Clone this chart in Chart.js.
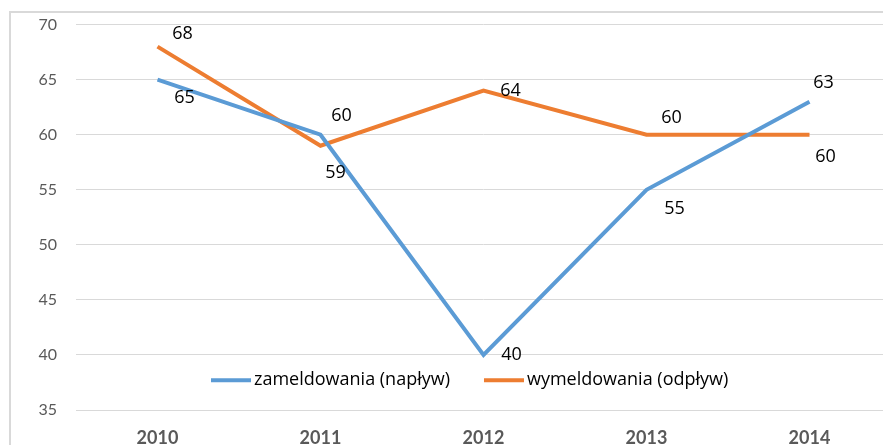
<!DOCTYPE html>
<html>
<head>
<meta charset="utf-8">
<script src="https://cdn.jsdelivr.net/npm/chart.js@4/dist/chart.umd.min.js"></script>
<style>
    html, body { margin: 0; padding: 0; background: #fff; overflow: hidden; }
    #wrap { position: relative; width: 883px; height: 445px; overflow: hidden; }
    #frame { position: absolute; left: 9px; top: 11px; width: 900px; height: 460px;
             border-left: 2px solid #d9d9d9; border-top: 2px solid #d9d9d9; }
    #box { position: absolute; left: 0; top: -4px; width: 891px; height: 449px; }
</style>
</head>
<body>
<div id="wrap">
    <div id="frame"></div>
    <div id="box"><canvas id="trendChart"></canvas></div>
</div>
<script>
document.addEventListener("DOMContentLoaded", function () {

    const years = ["2010", "2011", "2012", "2013", "2014"];
    const inflow = [65, 60, 40, 55, 63];
    const outflow = [68, 59, 64, 60, 60];
    const inflowLabel = "zameldowania (napływ)";
    const outflowLabel = "wymeldowania (odpływ)";

    const blue = "#5b9bd5";
    const orange = "#ed7d31";
    const textFont = "'Open Sans', Lato, sans-serif";
    const axisFont = "Lato, 'Open Sans', sans-serif";

    // label offsets from each point, [dx, dy]
    const inflowOffsets = [[27, 18], [21, -19], [28, 0], [28, 19], [14, -19]];
    const outflowOffsets = [[25, -13], [15, 27], [27, 0], [25, -17], [16, 22]];

    const pointLabels = {
        id: "pointLabels",
        afterDatasetsDraw(chart) {
            const ctx = chart.ctx;
            ctx.save();
            ctx.font = "18px " + textFont;
            ctx.fillStyle = "#000";
            ctx.textAlign = "center";
            ctx.textBaseline = "middle";
            const offsets = [inflowOffsets, outflowOffsets];
            chart.data.datasets.forEach(function (ds, i) {
                chart.getDatasetMeta(i).data.forEach(function (pt, j) {
                    ctx.fillText(String(ds.data[j]), pt.x + offsets[i][j][0], pt.y + offsets[i][j][1]);
                });
            });
            ctx.restore();
        }
    };

    const innerLegend = {
        id: "innerLegend",
        afterDatasetsDraw(chart) {
            const ctx = chart.ctx;
            const y = chart.scales.y.getPixelForValue(37.7);
            ctx.save();
            ctx.font = "18px " + textFont;
            ctx.textBaseline = "middle";
            let x = 211;
            chart.data.datasets.forEach(function (ds) {
                ctx.strokeStyle = ds.borderColor;
                ctx.lineWidth = 4;
                ctx.beginPath();
                ctx.moveTo(x, y);
                ctx.lineTo(x + 40, y);
                ctx.stroke();
                ctx.fillStyle = "#000";
                ctx.fillText(ds.label, x + 43, y);
                x += 43 + ctx.measureText(ds.label).width + 34;
            });
            ctx.restore();
        }
    };

    new Chart(document.getElementById("trendChart"), {
        type: "line",
        data: {
            labels: years,
            datasets: [
                { label: inflowLabel, data: inflow, borderColor: blue, backgroundColor: blue,
                  borderWidth: 4, pointRadius: 0, tension: 0 },
                { label: outflowLabel, data: outflow, borderColor: orange, backgroundColor: orange,
                  borderWidth: 4, pointRadius: 0, tension: 0 }
            ]
        },
        options: {
            responsive: true,
            maintainAspectRatio: false,
            animation: false,
            layout: { padding: { top: 16, left: 0, right: 0, bottom: 0 } },
            plugins: {
                legend: { display: false },
                tooltip: { enabled: false }
            },
            scales: {
                x: {
                    offset: true,
                    grid: { display: false },
                    border: { display: false },
                    ticks: { color: "#595959", padding: 9, font: { family: axisFont, size: 18, weight: "bold" } },
                    afterFit(scale) { scale.height = 35; }
                },
                y: {
                    min: 35,
                    max: 70,
                    ticks: { stepSize: 5, color: "#595959", padding: 19, font: { family: axisFont, size: 16 } },
                    grid: { color: "#d9d9d9", lineWidth: 1, drawTicks: false },
                    border: { display: false },
                    afterFit(scale) { scale.width = 76; }
                }
            }
        },
        plugins: [pointLabels, innerLegend]
    });
});
</script>
</body>
</html>
